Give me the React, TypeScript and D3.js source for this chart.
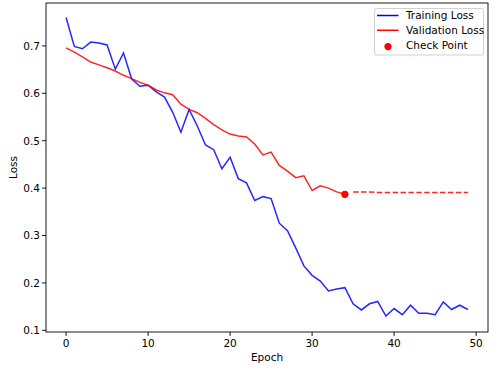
import React from "react";
import * as d3 from "d3";

const epochs = d3.range(0, 50);
const trainingLoss = [
  0.760, 0.699, 0.694, 0.708, 0.706, 0.702, 0.651, 0.685, 0.630, 0.615,
  0.617, 0.603, 0.592, 0.560, 0.518, 0.566, 0.531, 0.491, 0.481, 0.441,
  0.465, 0.420, 0.411, 0.374, 0.382, 0.378, 0.326, 0.310, 0.274, 0.236,
  0.216, 0.204, 0.183, 0.187, 0.190, 0.156, 0.143, 0.156, 0.161, 0.130,
  0.146, 0.133, 0.153, 0.136, 0.136, 0.133, 0.160, 0.144, 0.153, 0.144,
];
const validationLoss = [
  0.696, 0.687, 0.677, 0.666, 0.660, 0.654, 0.647, 0.638, 0.631, 0.623,
  0.617, 0.607, 0.601, 0.597, 0.577, 0.566, 0.559, 0.547, 0.534, 0.523,
  0.514, 0.510, 0.508, 0.493, 0.470, 0.476, 0.448, 0.436, 0.422, 0.426,
  0.395, 0.405, 0.400, 0.392, 0.387,
];
const projectedEpochs = d3.range(35, 50);
const projectedLoss = [
  0.392, 0.392, 0.392, 0.391, 0.391, 0.391, 0.391, 0.391, 0.391, 0.391,
  0.391, 0.391, 0.391, 0.391, 0.391,
];
const checkPointEpoch = 34;
const checkPointLoss = 0.387;
const xTicks = [0, 10, 20, 30, 40, 50];
const yTicks = [0.1, 0.2, 0.3, 0.4, 0.5, 0.6, 0.7];
const legendItems = ["Training Loss", "Validation Loss", "Check Point"];

export default function App() {
  const W = 500, H = 375;
  const left = 46, right = 488, top = 3, bottom = 332;
  const x = d3.scaleLinear().domain([-2.45, 51.45]).range([left, right]);
  const y = d3.scaleLinear().domain([0.0965, 0.7905]).range([bottom, top]);
  const line = d3.line<[number, number]>().x(d => x(d[0])).y(d => y(d[1]));
  const font = "DejaVu Sans, sans-serif";
  const fs = 10.5;
  const trainPts = epochs.map((e, i) => [e, trainingLoss[i]] as [number, number]);
  const valPts = validationLoss.map((v, i) => [i, v] as [number, number]);
  const projPts = projectedEpochs.map((e, i) => [e, projectedLoss[i]] as [number, number]);
  const lx = 374.5, ly = 8.5, lw = 109, lh = 46.5;
  return (
    <svg width={W} height={H} style={{ position: "absolute", left: 0, top: 0 }}>
      <rect x={0} y={0} width={W} height={H} fill="white" />
      <path d={line(trainPts) ?? ""} fill="none" stroke="#0000ff" strokeWidth={1.5} strokeOpacity={0.85} />
      <path d={line(valPts) ?? ""} fill="none" stroke="#ff0000" strokeWidth={1.5} strokeOpacity={0.85} />
      <path d={line(projPts) ?? ""} fill="none" stroke="#ff0000" strokeWidth={1.5} strokeDasharray="5.5,2.4" strokeOpacity={0.85} />
      <circle cx={x(checkPointEpoch)} cy={y(checkPointLoss)} r={3.6} fill="#ff0000" />
      <rect x={left} y={top} width={right - left} height={bottom - top} fill="none" stroke="#000" strokeWidth={0.9} />
      {xTicks.map(t => (
        <g key={"x" + t}>
          <line x1={x(t)} x2={x(t)} y1={bottom} y2={bottom + 4} stroke="#000" strokeWidth={0.9} />
          <text x={x(t)} y={bottom + 15} textAnchor="middle" fontFamily={font} fontSize={fs} fill="#000">{t}</text>
        </g>
      ))}
      {yTicks.map(t => (
        <g key={"y" + t}>
          <line x1={left - 4} x2={left} y1={y(t)} y2={y(t)} stroke="#000" strokeWidth={0.9} />
          <text x={left - 6} y={y(t) + 3.8} textAnchor="end" fontFamily={font} fontSize={fs} fill="#000">{t.toFixed(1)}</text>
        </g>
      ))}
      <text x={(left + right) / 2} y={361} textAnchor="middle" fontFamily={font} fontSize={fs} fill="#000">Epoch</text>
      <text transform={`translate(17,${(top + bottom) / 2}) rotate(-90)`} textAnchor="middle" fontFamily={font} fontSize={fs} fill="#000">Loss</text>
      <rect x={lx} y={ly} width={lw} height={lh} rx={2} fill="white" fillOpacity={0.8} stroke="#cccccc" strokeWidth={0.9} />
      {legendItems.map((name, i) => {
        const cy = 15.5 + i * 14.8;
        return (
          <g key={name}>
            {i < 2 ? (
              <line x1={377} x2={398.5} y1={cy} y2={cy} stroke={i === 0 ? "#0000ff" : "#ff0000"} strokeWidth={1.5} />
            ) : (
              <circle cx={388} cy={cy + 1.5} r={3.6} fill="#ff0000" />
            )}
            <text x={406} y={cy + 3.8} fontFamily={font} fontSize={fs} fill="#000">{name}</text>
          </g>
        );
      })}
    </svg>
  );
}
